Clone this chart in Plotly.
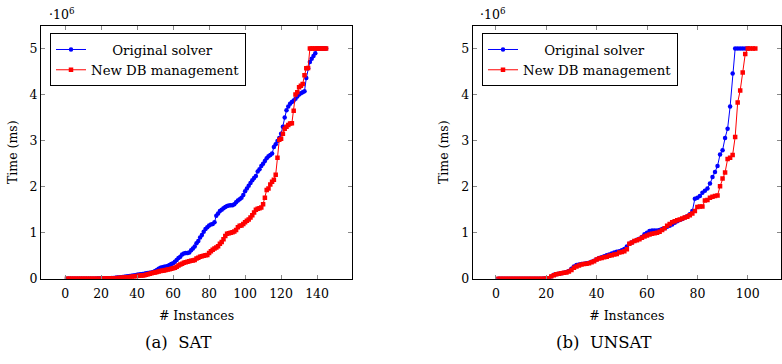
import plotly.graph_objects as go

# ---------------- data (times in units of 10^6 ms) ----------------
sat_orig = [
    0.000, 0.000, 0.000, 0.001, 0.001, 0.001, 0.001, 0.001, 0.002, 0.002,
    0.002, 0.002, 0.003, 0.003, 0.003, 0.004, 0.004, 0.005, 0.005, 0.006,
    0.007, 0.008, 0.010, 0.012, 0.014, 0.017, 0.020, 0.023, 0.027, 0.031,
    0.035, 0.040, 0.045, 0.050, 0.055, 0.060, 0.066, 0.072, 0.080, 0.088,
    0.095, 0.10, 0.105, 0.11, 0.12, 0.125, 0.13, 0.14, 0.15, 0.17,
    0.19, 0.22, 0.24, 0.25, 0.26, 0.27, 0.28, 0.30, 0.32, 0.34,
    0.37, 0.41, 0.45, 0.48, 0.53, 0.55, 0.56, 0.56, 0.57, 0.62,
    0.66, 0.70, 0.77, 0.82, 0.90, 0.95, 1.02, 1.08, 1.12, 1.16,
    1.18, 1.19, 1.23, 1.37, 1.42, 1.47, 1.50, 1.53, 1.56, 1.58,
    1.59, 1.60, 1.60, 1.62, 1.66, 1.70, 1.73, 1.76, 1.82, 1.90,
    1.96, 2.02, 2.08, 2.14, 2.19, 2.23, 2.33, 2.38, 2.45, 2.50,
    2.56, 2.62, 2.66, 2.69, 2.72, 2.86, 2.92, 2.99, 3.06, 3.15,
    3.30, 3.50, 3.66, 3.74, 3.80, 3.84, 3.87, 3.91, 3.96, 4.00,
    4.03, 4.05, 4.07, 4.36, 4.57, 4.71, 4.78, 4.84, 4.90, 5.00,
    5.00, 5.00, 5.00, 5.00, 5.00,
]
sat_new = [
    0.000, 0.000, 0.000, 0.000, 0.000, 0.000, 0.000, 0.000, 0.001, 0.001,
    0.001, 0.001, 0.001, 0.002, 0.002, 0.002, 0.002, 0.003, 0.003, 0.003,
    0.004, 0.005, 0.006, 0.007, 0.008, 0.010, 0.012, 0.014, 0.016, 0.019,
    0.022, 0.025, 0.028, 0.032, 0.036, 0.040, 0.045, 0.050, 0.055, 0.060,
    0.065, 0.07, 0.075, 0.08, 0.09, 0.10, 0.11, 0.12, 0.13, 0.14,
    0.15, 0.16, 0.17, 0.175, 0.18, 0.19, 0.20, 0.21, 0.22, 0.23,
    0.24, 0.26, 0.29, 0.31, 0.33, 0.35, 0.36, 0.37, 0.38, 0.39,
    0.40, 0.41, 0.44, 0.46, 0.48, 0.49, 0.50, 0.51, 0.52, 0.56,
    0.60, 0.63, 0.66, 0.68, 0.71, 0.76, 0.80, 0.86, 0.93, 0.98,
    0.99, 1.00, 1.01, 1.03, 1.06, 1.12, 1.15, 1.16, 1.19, 1.23,
    1.26, 1.29, 1.33, 1.38, 1.44, 1.50, 1.52, 1.53, 1.55, 1.62,
    1.76, 1.93, 1.96, 2.05, 2.11, 2.15, 2.26, 2.63, 3.02, 3.04,
    3.15, 3.26, 3.30, 3.34, 3.37, 3.38, 3.65, 4.00, 4.05, 4.16,
    4.19, 4.23, 4.42, 4.57, 4.58, 5.00, 5.00, 5.00, 5.00, 5.00,
    5.00, 5.00, 5.00, 5.00, 5.00,
]
unsat_orig = [
    0.000, 0.000, 0.000, 0.000, 0.001, 0.001, 0.001, 0.001, 0.001, 0.002,
    0.002, 0.002, 0.002, 0.003, 0.003, 0.003, 0.004, 0.004, 0.005, 0.006,
    0.01, 0.05, 0.09, 0.10, 0.11, 0.12, 0.13, 0.15, 0.17, 0.22,
    0.27, 0.30, 0.31, 0.32, 0.33, 0.34, 0.35, 0.37, 0.39, 0.42,
    0.45, 0.47, 0.49, 0.51, 0.53, 0.55, 0.57, 0.59, 0.60, 0.62,
    0.65, 0.70, 0.76, 0.79, 0.82, 0.85, 0.87, 0.91, 0.97, 1.00,
    1.04, 1.05, 1.05, 1.05, 1.06, 1.08, 1.10, 1.13, 1.15, 1.18,
    1.22, 1.25, 1.28, 1.30, 1.33, 1.36, 1.40, 1.47, 1.74, 1.76,
    1.80, 1.87, 1.91, 1.96, 2.07, 2.21, 2.32, 2.45, 2.70, 2.79,
    3.06, 3.26, 3.74, 4.46, 5.00, 5.00, 5.00, 5.00, 5.00, 5.00,
]
unsat_new = [
    0.000, 0.000, 0.000, 0.000, 0.000, 0.001, 0.001, 0.001, 0.001, 0.001,
    0.002, 0.002, 0.002, 0.002, 0.003, 0.003, 0.003, 0.004, 0.004, 0.005,
    0.01, 0.05, 0.08, 0.10, 0.11, 0.12, 0.13, 0.14, 0.16, 0.19,
    0.24, 0.27, 0.29, 0.31, 0.32, 0.33, 0.34, 0.36, 0.38, 0.42,
    0.44, 0.45, 0.47, 0.48, 0.50, 0.51, 0.53, 0.54, 0.57, 0.58,
    0.60, 0.64, 0.76, 0.79, 0.82, 0.84, 0.86, 0.89, 0.92, 0.94,
    0.96, 0.98, 0.99, 1.00, 1.02, 1.06, 1.10, 1.15, 1.19, 1.23,
    1.25, 1.27, 1.29, 1.31, 1.33, 1.35, 1.38, 1.42, 1.47, 1.56,
    1.57, 1.57, 1.70, 1.71, 1.76, 1.78, 1.80, 1.81, 2.01, 2.18,
    2.31, 2.60, 2.63, 2.69, 3.08, 3.83, 4.09, 4.48, 4.88, 5.00,
    5.00, 5.00, 5.00,
]
series_names = ["Original solver", "New DB management"]
x_ticks_sat = [0, 20, 40, 60, 80, 100, 120, 140]
x_ticks_unsat = [0, 20, 40, 60, 80, 100]
y_ticks = [0, 1, 2, 3, 4, 5]
captions = ["(a)\u00a0\u00a0SAT", "(b)\u00a0\u00a0UNSAT"]

FONT = "DejaVu Serif"
W, H = 782, 364
BLUE, RED = "#0000ff", "#ff0000"
PAD = "\u00a0" * 5  # centres the shorter legend entry like the reference


def xs(vals):
    return list(range(1, len(vals) + 1))


fig = go.Figure()

for (orig, new, xa, ya, lg) in [
    (sat_orig, sat_new, "x", "y", "legend"),
    (unsat_orig, unsat_new, "x2", "y2", "legend2"),
]:
    fig.add_trace(go.Scatter(
        x=xs(orig), y=orig, mode="lines+markers", name=PAD + series_names[0],
        line=dict(color=BLUE, width=1), marker=dict(symbol="circle", size=4.5, color=BLUE),
        xaxis=xa, yaxis=ya, legend=lg))
    fig.add_trace(go.Scatter(
        x=xs(new), y=new, mode="lines+markers", name=series_names[1],
        line=dict(color=RED, width=1), marker=dict(symbol="square", size=4.5, color=RED),
        xaxis=xa, yaxis=ya, legend=lg))


def px_x(p):
    return p / W


def px_y(p):
    return 1 - p / H


Y_DOM = [px_y(284.3), px_y(26)]

axis_common = dict(
    showline=True, linecolor="black", linewidth=1, mirror="ticks",
    ticks="inside", ticklen=4, tickcolor="#888888", tickwidth=1,
    showgrid=False, zeroline=False,
    tickfont=dict(family=FONT, size=12.5, color="black"),
)
xtitle = dict(text="# Instances", font=dict(family=FONT, size=12.5), standoff=11)
ytitle = dict(text="Time (ms)", font=dict(family=FONT, size=12.5), standoff=9)
legend_common = dict(
    xanchor="left", yanchor="top", bgcolor="white", bordercolor="black", borderwidth=1,
    font=dict(family=FONT, size=13.3), tracegroupgap=0, itemwidth=30, traceorder="normal",
)

fig.update_layout(
    width=W, height=H,
    margin=dict(l=0, r=0, t=0, b=0),
    paper_bgcolor="white", plot_bgcolor="white",
    font=dict(family=FONT, color="black"),
    xaxis=dict(domain=[px_x(41), px_x(352)], range=[-13.4, 159.4], tickvals=x_ticks_sat,
               anchor="y", title=xtitle, ticklabelstandoff=3, **axis_common),
    yaxis=dict(domain=Y_DOM, range=[0, 5.5], tickvals=y_ticks, anchor="x",
               title=ytitle, **axis_common),
    xaxis2=dict(domain=[px_x(472.7), px_x(781)], range=[-9.2, 113.2], tickvals=x_ticks_unsat,
                anchor="y2", title=xtitle, ticklabelstandoff=3, **axis_common),
    yaxis2=dict(domain=Y_DOM, range=[0, 5.5], tickvals=y_ticks, anchor="x2",
                title=ytitle, **axis_common),
    legend=dict(x=px_x(50), y=px_y(34), **legend_common),
    legend2=dict(x=px_x(482), y=px_y(34), **legend_common),
    showlegend=True,
)

# exponent labels
for xp in (47, 478):
    fig.add_annotation(text="\u00b710<sup>6</sup>", x=px_x(xp), y=px_y(14), xref="paper", yref="paper",
                       xanchor="left", yanchor="middle", showarrow=False,
                       font=dict(family=FONT, size=12.5))

# captions
for cx, txt in zip((178, 604), captions):
    fig.add_annotation(text=txt, x=px_x(cx), y=px_y(349), xref="paper", yref="paper",
                       xanchor="center", yanchor="middle", showarrow=False,
                       font=dict(family=FONT, size=16.5))

fig.write_html("out.html")
